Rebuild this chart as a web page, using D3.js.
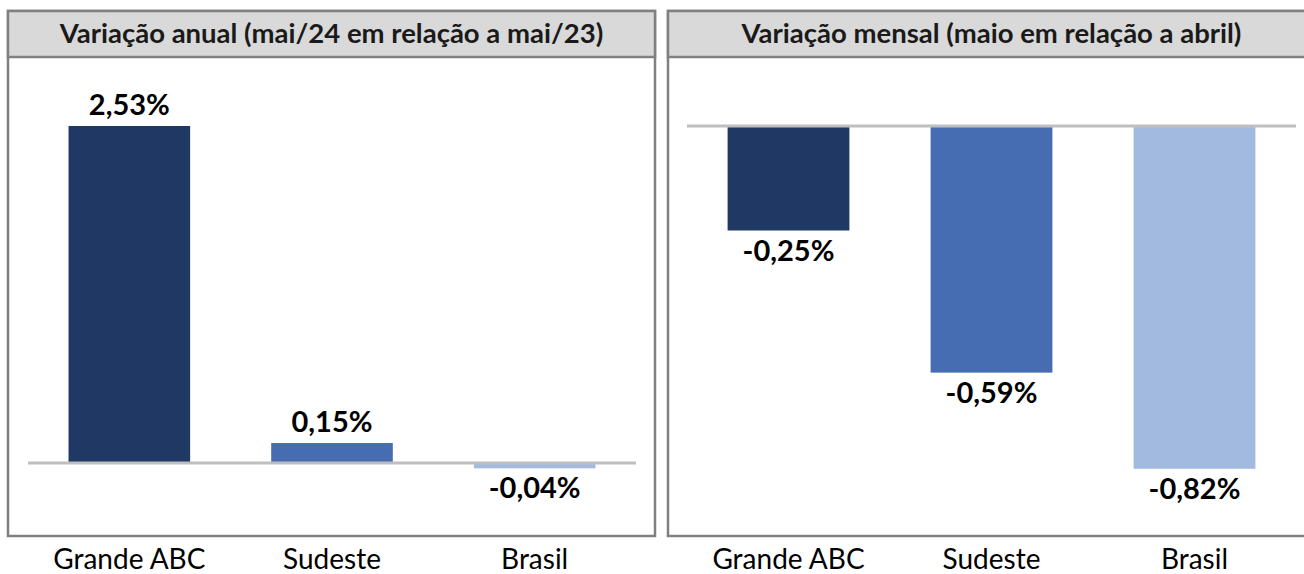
<!DOCTYPE html>
<html>
<head>
<meta charset="utf-8">
<script src="https://cdn.jsdelivr.net/npm/d3@7"></script>
<style>
	body { margin: 0; background: #fff; }
	svg { display: block; }
	.title { font-family: Lato, sans-serif; font-weight: bold; font-size: 27.5px; fill: #1a1a1a; }
	.value { font-family: Lato, sans-serif; font-weight: bold; font-size: 29px; fill: #000; }
	.cat { font-family: Lato, sans-serif; font-size: 28px; fill: #000; }
</style>
</head>
<body>
<svg id="chart" width="1304" height="574"></svg>
<script>

var categories = ['Grande ABC', 'Sudeste', 'Brasil'];
var anual = [2.53, 0.15, -0.04];
var mensal = [-0.25, -0.59, -0.82];
var titles = ['Variação anual (mai/24 em relação a mai/23)', 'Variação mensal (maio em relação a abril)'];
var colors = ['#1f3864', '#466cb2', '#a2bae0'];

var svg = d3.select('#chart');
var g = svg.append('g');

function fmt(v) {
	return v.toFixed(2).replace('.', ',') + '%';
}

function drawPanel(px, title, values, yDomain, yRange, xRange) {

	// frame
	g.append('rect')
		.attr('x', px)
		.attr('y', 11)
		.attr('width', 647)
		.attr('height', 525)
		.style('fill', '#fff')
		.attr('stroke', '#808080')
		.attr('stroke-width', 2.5);

	g.append('rect') // header
		.attr('x', px)
		.attr('y', 11)
		.attr('width', 647)
		.attr('height', 46)
		.style('fill', '#d9d9d9')
		.attr('stroke', '#808080')
		.attr('stroke-width', 2.5);

	g.append('text')
		.attr('x', px + 647 / 2)
		.attr('y', 43)
		.text(title)
		.attr('class', 'title')
		.attr('text-anchor', 'middle');

	var x = d3.scaleBand()
		.domain(categories)
		.range(xRange)
		.paddingInner(0.4)
		.paddingOuter(0.2);

	var y = d3.scaleLinear()
		.domain(yDomain)
		.range(yRange);

	g.selectAll(null)
		.data(values)
		.enter().append('rect')
		.attr('x', function(d, i) { return x(categories[i]); })
		.attr('y', function(d) { return y(Math.max(0, d)); })
		.attr('width', x.bandwidth())
		.attr('height', function(d) { return Math.abs(y(d) - y(0)); })
		.style('fill', function(d, i) { return colors[i]; });

	g.append('line') // zero line
		.attr('x1', xRange[0])
		.attr('y1', y(0))
		.attr('x2', xRange[1])
		.attr('y2', y(0))
		.attr('stroke', '#bfbfbf')
		.attr('stroke-width', 3);

	g.selectAll(null)
		.data(values)
		.enter().append('text')
		.attr('x', function(d, i) { return x(categories[i]) + x.bandwidth() / 2; })
		.attr('y', function(d) { return d >= 0 ? y(d) - 11 : y(d) + 30; })
		.text(function(d) { return fmt(d); })
		.attr('class', 'value')
		.attr('text-anchor', 'middle');

	g.selectAll(null)
		.data(categories)
		.enter().append('text')
		.attr('x', function(d) { return x(d) + x.bandwidth() / 2; })
		.attr('y', 569)
		.text(function(d) { return d; })
		.attr('class', 'cat')
		.attr('text-anchor', 'middle');
}

drawPanel(8, titles[0], anual, [-0.5, 3], [529.6, 63.4], [28, 636]);
drawPanel(668, titles[1], mensal, [-0.9, 0], [502.2, 126], [687, 1296]);

</script>
</body>
</html>
